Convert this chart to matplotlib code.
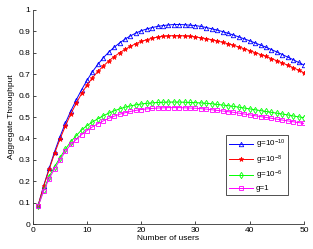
import matplotlib
matplotlib.use("Agg")
import matplotlib.pyplot as plt
import numpy as np

plt.rcParams['font.family'] = ['Liberation Sans', 'DejaVu Sans']
plt.rcParams['mathtext.fontset'] = 'custom'
plt.rcParams['mathtext.rm'] = 'Liberation Sans'
plt.rcParams['mathtext.it'] = 'Liberation Sans:italic'

users = list(range(1, 51))

g_1e10 = [0.09, 0.18, 0.26, 0.338, 0.408, 0.472, 0.528, 0.58, 0.628, 0.672,
          0.712, 0.746, 0.777, 0.803, 0.826, 0.846, 0.864, 0.879, 0.892, 0.903,
          0.911, 0.918, 0.923, 0.927, 0.93, 0.932, 0.932, 0.931, 0.929, 0.927,
          0.923, 0.918, 0.912, 0.906, 0.899, 0.891, 0.883, 0.874, 0.865, 0.856,
          0.846, 0.836, 0.826, 0.815, 0.804, 0.792, 0.78, 0.768, 0.755, 0.743]

g_1e8 = [0.09, 0.178, 0.255, 0.33, 0.397, 0.458, 0.515, 0.564, 0.61, 0.65,
         0.683, 0.713, 0.738, 0.762, 0.782, 0.8, 0.816, 0.83, 0.843, 0.853,
         0.861, 0.868, 0.873, 0.877, 0.879, 0.88, 0.88, 0.879, 0.877, 0.874,
         0.87, 0.866, 0.861, 0.855, 0.849, 0.842, 0.835, 0.827, 0.819, 0.81,
         0.801, 0.792, 0.783, 0.773, 0.763, 0.753, 0.742, 0.731, 0.719, 0.707]

g_1e6 = [0.085, 0.16, 0.222, 0.268, 0.31, 0.35, 0.385, 0.413, 0.44, 0.46,
         0.477, 0.492, 0.506, 0.518, 0.529, 0.538, 0.546, 0.552, 0.557, 0.561,
         0.564, 0.566, 0.568, 0.569, 0.57, 0.57, 0.57, 0.569, 0.568, 0.567,
         0.566, 0.564, 0.562, 0.559, 0.556, 0.553, 0.55, 0.546, 0.542, 0.538,
         0.534, 0.53, 0.526, 0.522, 0.518, 0.514, 0.51, 0.505, 0.501, 0.497]

g_1 = [0.085, 0.155, 0.212, 0.258, 0.3, 0.34, 0.372, 0.395, 0.418, 0.437,
       0.454, 0.469, 0.482, 0.494, 0.504, 0.513, 0.52, 0.526, 0.531, 0.535,
       0.538, 0.54, 0.542, 0.543, 0.544, 0.544, 0.544, 0.543, 0.542, 0.541,
       0.539, 0.537, 0.534, 0.531, 0.528, 0.525, 0.522, 0.518, 0.514, 0.51,
       0.506, 0.502, 0.498, 0.494, 0.49, 0.486, 0.482, 0.478, 0.474, 0.47]

labels = [r'g=10$^{-10}$', r'g=10$^{-8}$', r'g=10$^{-6}$', 'g=1']
series = [g_1e10, g_1e8, g_1e6, g_1]
colors = ['#0000ff', '#ff0000', '#00ff00', '#ff00ff']
markers = ['^', '*', 'd', 's']

fig = plt.figure(figsize=(3.13, 2.49), dpi=100)
ax = fig.add_axes([0.105, 0.10, 0.866, 0.86])

for y, lab, c, m in zip(series, labels, colors, markers):
    if m == '*':
        ax.plot(users, y, color=c, marker=m, markersize=3.5, linewidth=0.7,
                label=lab, markeredgewidth=0.5)
    else:
        ax.plot(users, y, color=c, marker=m, markersize=3.2, linewidth=0.7,
                label=lab, markerfacecolor='none', markeredgewidth=0.6)

ax.set_xlim(0, 50)
ax.set_ylim(0, 1)
ax.set_xticks([0, 10, 20, 30, 40, 50])
ax.set_yticks(np.arange(0, 1.01, 0.1))
ax.set_yticklabels(['0', '0.1', '0.2', '0.3', '0.4', '0.5', '0.6', '0.7', '0.8', '0.9', '1'])
ax.tick_params(direction='in', labelsize=6, length=2, width=0.5, pad=2)
for s in ['top', 'right']:
    ax.spines[s].set_visible(False)
for s in ['left', 'bottom']:
    ax.spines[s].set_linewidth(0.6)
    ax.spines[s].set_color('#333333')

ax.set_xlabel('Number of users', fontsize=6, labelpad=1)
ax.set_ylabel('Aggregate Throughput', fontsize=6, labelpad=2)

leg = ax.legend(loc='lower right', bbox_to_anchor=(0.942, 0.135), fontsize=5.8,
                frameon=True, fancybox=False, handlelength=3.0,
                borderpad=0.35, labelspacing=0.3, handletextpad=0.4,
                borderaxespad=0.0)
leg.get_frame().set_edgecolor('black')
leg.get_frame().set_linewidth(0.6)

fig.savefig('out.png', dpi=100)
